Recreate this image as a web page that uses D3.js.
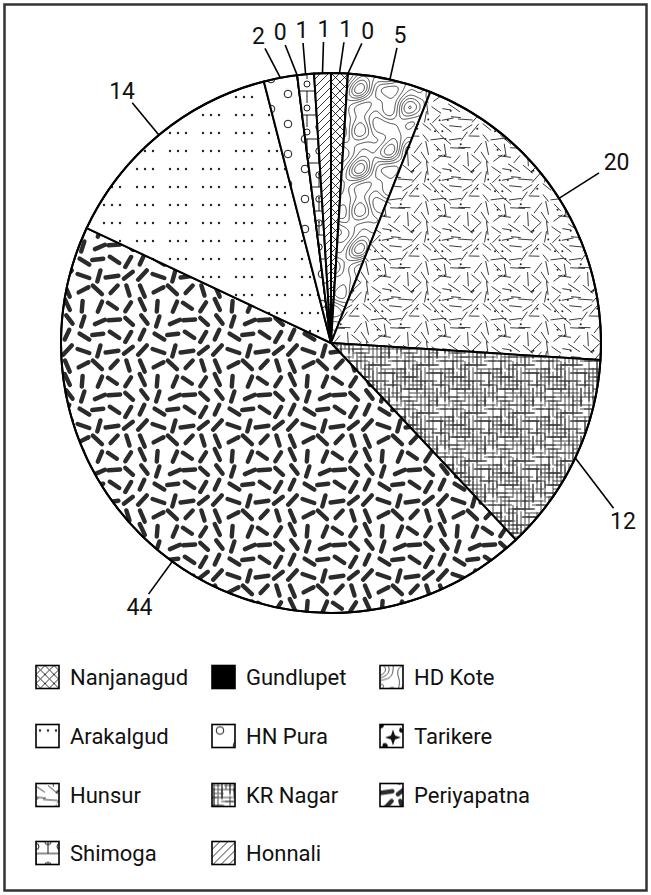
<!DOCTYPE html>
<html>
<head>
<meta charset="utf-8">
<script src="https://cdn.jsdelivr.net/npm/d3@7"></script>
<style>
  body { margin: 0; background: #fff; }
  svg { display: block; }
</style>
</head>
<body>
<script>
let w = 651;
let h = 895;

// slices, clockwise from 12 o'clock
let districts = ["Nanjanagud", "Gundlupet", "HD Kote", "Hunsur", "KR Nagar",
  "Periyapatna", "Arakalgud", "HN Pura", "Tarikere", "Shimoga", "Honnali"];
let shares = [1, 0, 5, 20, 12, 44, 14, 2, 0, 1, 1];

// legend, row by row
let legendNames = ["Nanjanagud", "Gundlupet", "HD Kote", "Arakalgud", "HN Pura",
  "Tarikere", "Hunsur", "KR Nagar", "Periyapatna", "Shimoga", "Honnali"];

let patternOf = {
  "Nanjanagud": "p-cross", "Gundlupet": "p-solid", "HD Kote": "p-contour",
  "Arakalgud": "p-dots", "HN Pura": "p-rings", "Tarikere": "p-blots",
  "Hunsur": "p-confetti", "KR Nagar": "p-grid", "Periyapatna": "p-dashes",
  "Shimoga": "p-boxes", "Honnali": "p-hatch"
};

let cx = 331, cy = 343, r = 270;
let font = "Roboto, 'Liberation Sans', sans-serif";

let svg = d3.select("body").append("svg")
  .attr("width", w)
  .attr("height", h);

// fixed pseudo-random sequence, used for the textures only
let seed = 1;
function rnd() {
  seed = (seed * 16807) % 2147483647;
  return (seed - 1) / 2147483646;
}

let defs = svg.append("defs");

function pat(id, pw, ph) {
  let p = defs.append("pattern")
    .attr("id", id)
    .attr("patternUnits", "userSpaceOnUse")
    .attr("width", pw)
    .attr("height", ph);
  p.append("rect").attr("width", pw).attr("height", ph).attr("fill", "#fff");
  return p;
}

// draw tile content 9 times so pieces cut by the tile edge wrap round
function tile(p, pw, ph, draw) {
  [-1, 0, 1].forEach(i => [-1, 0, 1].forEach(j => {
    draw(p.append("g").attr("transform", "translate(" + (i * pw) + "," + (j * ph) + ")"));
  }));
}

// crosshatch
pat("p-cross", 9, 9).append("path")
  .attr("d", "M-1,-1L10,10M10,-1L-1,10")
  .attr("stroke", "#000").attr("stroke-width", 0.8);

// single hatch
pat("p-hatch", 8, 8).append("path")
  .attr("d", "M-1,9L9,-1M-5,5L5,-5M3,13L13,3")
  .attr("stroke", "#000").attr("stroke-width", 0.8);

// solid
pat("p-solid", 4, 4).append("rect").attr("width", 4).attr("height", 4).attr("fill", "#000");

// dots in threes
let dots = pat("p-dots", 33, 18);
[4, 12, 20].forEach(x => {
  dots.append("circle").attr("cx", x).attr("cy", 6).attr("r", 1.2).attr("fill", "#222");
});

// small rings
let rings = pat("p-rings", 34, 30);
tile(rings, 34, 30, g => {
  [[8, 6], [25, 21]].forEach(c => {
    g.append("circle").attr("cx", c[0]).attr("cy", c[1]).attr("r", 3.8)
      .attr("fill", "none").attr("stroke", "#000").attr("stroke-width", 0.9);
  });
});

// boxes with circles
let boxes = pat("p-boxes", 24, 24);
tile(boxes, 24, 24, g => {
  g.append("path").attr("d", "M0,12H24M12,0V12M0,12V24")
    .attr("stroke", "#000").attr("stroke-width", 0.9).attr("fill", "none");
  g.append("circle").attr("cx", 12).attr("cy", 24).attr("r", 3.2)
    .attr("fill", "none").attr("stroke", "#000").attr("stroke-width", 0.9);
  g.append("circle").attr("cx", 12).attr("cy", 23).attr("r", 0.9).attr("fill", "#000");
  g.append("circle").attr("cx", 24).attr("cy", 5).attr("r", 3)
    .attr("fill", "none").attr("stroke", "#000").attr("stroke-width", 0.9);
});

// blots
let blots = pat("p-blots", 26, 26);
tile(blots, 26, 26, g => {
  g.append("path").attr("d", "M13,5L15,11L21,13L15,15L13,21L11,15L5,13L11,11Z").attr("fill", "#111");
  g.append("circle").attr("cx", 0).attr("cy", 0).attr("r", 4).attr("fill", "#111");
  g.append("path").attr("d", "M3,19Q7,17 8,22Q5,26 2,23Z").attr("fill", "#111");
  g.append("path").attr("d", "M20,3Q24,4 23,8Q20,9 19,6Z").attr("fill", "#111");
});

// contour lines: iso-lines of a periodic field
let cT = 80, cPad = 6, cN = cT + 2 * cPad;
let field = [];
for (let j = 0; j < cN; j++) {
  for (let i = 0; i < cN; i++) {
    let x = (i - cPad) * 2 * Math.PI / cT, y = (j - cPad) * 2 * Math.PI / cT;
    field.push(1.3 * Math.sin(x + y + 0.7) + 0.8 * Math.sin(2 * x - y + 1.9) +
      0.6 * Math.cos(x + 2 * y + 0.4) + 0.45 * Math.sin(3 * x + y + 2.6) +
      0.4 * Math.cos(x - 3 * y + 1.1) + 0.3 * Math.sin(2 * x + 3 * y + 0.2));
  }
}
let iso = d3.contours().size([cN, cN]).thresholds(d3.range(-3.4, 3.5, 0.8))(field);
let contour = pat("p-contour", cT, cT);
contour.append("g")
  .attr("transform", "translate(" + (-cPad) + "," + (-cPad) + ")")
  .selectAll("path")
  .data(iso)
  .enter()
  .append("path")
  .attr("d", d3.geoPath())
  .attr("fill", "none")
  .attr("stroke", "#111")
  .attr("stroke-width", 0.8);

// confetti strokes with dots
seed = 11;
let confettiBits = [];
for (let i = 0; i < 6; i++) {
  for (let j = 0; j < 6; j++) {
    confettiBits.push({
      x: i * 10 + 5 + (rnd() - 0.5) * 4,
      y: j * 10 + 5 + (rnd() - 0.5) * 4,
      a: Math.floor(rnd() * 4) * 45 + (rnd() - 0.5) * 24,
      len: 9 + rnd() * 6,
      dot: rnd() < 0.35,
      dx: (rnd() - 0.5) * 8,
      dy: (rnd() - 0.5) * 8
    });
  }
}
let confetti = pat("p-confetti", 60, 60);
tile(confetti, 60, 60, g => {
  confettiBits.forEach(b => {
    let ux = Math.cos(b.a * Math.PI / 180) * b.len / 2;
    let uy = Math.sin(b.a * Math.PI / 180) * b.len / 2;
    g.append("line")
      .attr("x1", b.x - ux).attr("y1", b.y - uy)
      .attr("x2", b.x + ux).attr("y2", b.y + uy)
      .attr("stroke", "#222").attr("stroke-width", 0.9);
    if (b.dot) {
      g.append("circle").attr("cx", b.x + b.dx).attr("cy", b.y + b.dy)
        .attr("r", 1).attr("fill", "#222");
    }
  });
});

// irregular grid
seed = 23;
let gridBits = [];
for (let k = 0; k < 12; k++) {
  for (let n = 0; n < 3; n++) {
    gridBits.push({ dir: "h", p: k * 4 + 2, s: rnd() * 48, len: 8 + rnd() * 20 });
    gridBits.push({ dir: "v", p: k * 4 + 2, s: rnd() * 48, len: 8 + rnd() * 20 });
  }
}
let grid = pat("p-grid", 48, 48);
tile(grid, 48, 48, g => {
  gridBits.forEach(b => {
    let d = b.dir === "h" ? "M" + b.s + "," + b.p + "h" + b.len : "M" + b.p + "," + b.s + "v" + b.len;
    g.append("path").attr("d", d).attr("stroke", "#333").attr("stroke-width", 0.9);
  });
});

// thick dashes
seed = 37;
let dashBits = [];
for (let i = 0; i < 5; i++) {
  for (let j = 0; j < 5; j++) {
    dashBits.push({
      x: i * 15 + 7.5 + (rnd() - 0.5) * 3,
      y: j * 15 + 7.5 + (rnd() - 0.5) * 3,
      a: rnd() * 180,
      len: 10 + rnd() * 3
    });
  }
}
let dashes = pat("p-dashes", 75, 75);
tile(dashes, 75, 75, g => {
  dashBits.forEach(b => {
    let ux = Math.cos(b.a * Math.PI / 180) * b.len / 2;
    let uy = Math.sin(b.a * Math.PI / 180) * b.len / 2;
    g.append("line")
      .attr("x1", b.x - ux).attr("y1", b.y - uy)
      .attr("x2", b.x + ux).attr("y2", b.y + uy)
      .attr("stroke", "#2b2b2b").attr("stroke-width", 4.4).attr("stroke-linecap", "round");
  });
});

// frame
svg.append("rect")
  .attr("x", 4.5).attr("y", 4.5)
  .attr("width", w - 9).attr("height", h - 9)
  .attr("fill", "none").attr("stroke", "#333").attr("stroke-width", 2.5);

// pie
let data = districts.map((d, i) => ({ name: d, value: shares[i] }));
let pie = d3.pie().sort(null).value(d => d.value);
let arcs = pie(data);
let arc = d3.arc().innerRadius(0).outerRadius(r);

let g = svg.append("g").attr("transform", "translate(" + cx + "," + cy + ")");

g.selectAll("path.slice")
  .data(arcs)
  .enter()
  .append("path")
  .attr("class", "slice")
  .attr("d", arc)
  .attr("fill", d => "url(#" + patternOf[d.data.name] + ")")
  .attr("stroke", "#000")
  .attr("stroke-width", 2)
  .attr("stroke-linejoin", "round");

g.append("circle").attr("r", r).attr("fill", "none").attr("stroke", "#000").attr("stroke-width", 2);

// data labels outside the pie; crowded ones fanned out, kept inside the frame
let fs = 23;
let labels = arcs.map(d => {
  let mid = (d.startAngle + d.endAngle) / 2;
  return { d: d, mid: mid, a: mid > Math.PI ? mid - 2 * Math.PI : mid };
});
labels.sort((p, q) => p.a - q.a);
let gap = 4 * Math.PI / 180;
for (let it = 0; it < 200; it++) {
  for (let i = 1; i < labels.length; i++) {
    let diff = labels[i].a - labels[i - 1].a;
    if (diff < gap) {
      let push = (gap - diff) / 2;
      labels[i].a += push;
      labels[i - 1].a -= push;
    }
  }
}

let maxX = w - 28 - cx;
labels.forEach(l => {
  let ux = Math.sin(l.a), uy = -Math.cos(l.a);
  let rl = r + 44 + 34 * ux * ux;
  let lx = rl * ux, ly = rl * uy;
  if (lx > maxX) {
    lx = maxX;
    ly = Math.sign(ly) * Math.sqrt(rl * rl - lx * lx);
  }
  let txt = String(l.d.value);
  let hw = txt.length * 6.5 + 2, hh = 10;
  let x0 = r * Math.sin(l.mid), y0 = -r * Math.cos(l.mid);
  let vx = lx - x0, vy = ly - y0, vl = Math.hypot(vx, vy);
  vx /= vl; vy /= vl;
  let t = Math.min(hw / Math.max(Math.abs(vx), 1e-6), hh / Math.max(Math.abs(vy), 1e-6)) + 3;
  g.append("line")
    .attr("x1", x0).attr("y1", y0)
    .attr("x2", lx - t * vx).attr("y2", ly - t * vy)
    .attr("stroke", "#000").attr("stroke-width", 1.6);
  g.append("text")
    .attr("x", lx).attr("y", ly + 0.355 * fs)
    .attr("text-anchor", "middle")
    .attr("font-family", font)
    .attr("font-size", fs + "px")
    .attr("fill", "#111")
    .text(txt);
});

// legend
let colX = [36, 212, 380];
let rowY = [677, 736, 795, 853];
let box = 23;

let legend = svg.selectAll("g.legend")
  .data(legendNames)
  .enter()
  .append("g")
  .attr("class", "legend")
  .attr("transform", (_, i) => "translate(" + colX[i % 3] + "," + (rowY[Math.floor(i / 3)] - box / 2) + ")");

legend.append("rect")
  .attr("x", 0).attr("y", 0)
  .attr("width", box).attr("height", box)
  .attr("fill", d => "url(#" + patternOf[d] + ")")
  .attr("stroke", "#000")
  .attr("stroke-width", 1.6);

legend.append("text")
  .attr("x", box + 11)
  .attr("y", box / 2)
  .attr("dy", "0.36em")
  .attr("font-family", font)
  .attr("font-size", "22px")
  .attr("fill", "#111")
  .text(d => d);
</script>
</body>
</html>
